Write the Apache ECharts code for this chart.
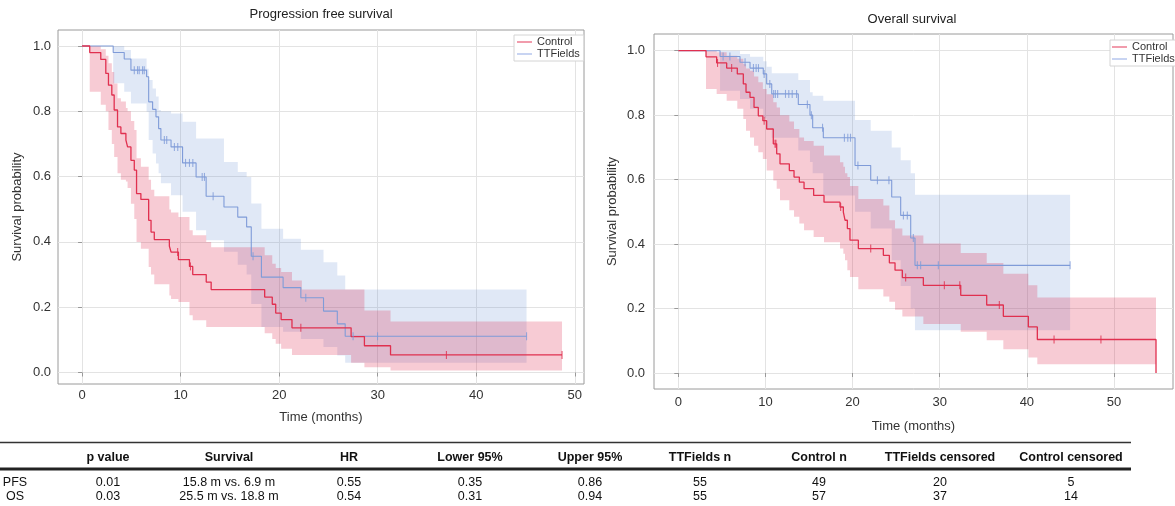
<!DOCTYPE html>
<html><head><meta charset="utf-8">
<script src="https://cdn.jsdelivr.net/npm/echarts@6/dist/echarts.min.js"></script>
<style>html,body{margin:0;padding:0;background:#fff}#c{width:1175px;height:506px}</style>
</head><body><div id="c"></div>
<script>
// ---------------- DATA ----------------
// Progression free survival - Control
const pfsCtrlTime  = [0, 0.78, 1.9, 2.41, 2.68, 3.02, 3.26, 3.6, 3.94, 4.45, 4.62, 4.96, 5.3, 5.53, 5.97, 6.76, 7.0, 7.33, 8.86, 9.03, 9.78, 10.9, 11.23, 12.6, 13.1, 18.53, 19.3, 19.65, 20.2, 21.3, 22.3, 27.3, 28.65, 31.3, 48.7];
const pfsCtrlSurv  = [1, .98, .959, .916, .88, .85, .804, .752, .732, .712, .691, .65, .62, .548, .53, .466, .43, .407, .387, .369, .346, .325, .30, .277, .254, .231, .209, .182, .162, .137, .137, .110, .082, .054, .054];
const pfsCtrlLower = [1, .86, .82, .80, .743, .70, .66, .61, .59, .585, .565, .517, .47, .40, .379, .323, .30, .27, .236, .225, .216, .175, .16, .139, .139, .12, .103, .088, .073, .054, .054, .03, .016, .006, .006];
const pfsCtrlUpper = [1, 1, .99, .97, .947, .92, .885, .84, .83, .81, .80, .77, .743, .656, .63, .59, .56, .54, .499, .49, .476, .436, .42, .40, .384, .359, .333, .32, .308, .282, .254, .254, .19, .156, .156];
const pfsCtrlCensor = [9.7, 11.0, 22.2, 36.97, 48.7];

// Progression free survival - TTFields
const pfsTtfTime  = [0, 3.16, 4.28, 4.96, 6.55, 6.76, 7.16, 7.5, 7.77, 8.0, 9.03, 10.2, 11.57, 12.59, 14.4, 15.8, 16.7, 17.17, 18.2, 20.4, 22.2, 24.5, 25.9, 26.7, 45.1];
const pfsTtfSurv  = [1, .98, .96, .926, .906, .829, .806, .783, .747, .712, .691, .642, .599, .54, .507, .476, .446, .356, .292, .26, .229, .188, .149, .111, .111];
const pfsTtfLower = [1, .886, .86, .824, .799, .712, .671, .64, .61, .58, .543, .492, .436, .405, .37, .33, .30, .21, .139, .125, .103, .078, .052, .03, .03];
const pfsTtfUpper = [1, 1, .988, .962, .93, .896, .87, .845, .804, .80, .793, .768, .717, .717, .645, .614, .599, .518, .44, .41, .376, .338, .297, .254, .254];
const pfsTtfCensor = [5.3, 5.63, 5.8, 6.14, 6.31, 8.35, 8.59, 9.37, 9.71, 10.5, 10.9, 11.24, 12.19, 12.42, 13.3, 17.35, 22.7, 27.5, 29.98, 45.1];

// Overall survival - Control
const osCtrlTime  = [0, 3.18, 4.4, 5.55, 6.77, 7.46, 7.77, 8.23, 8.69, 9.18, 9.7, 10.14, 10.9, 11.29, 11.67, 12.74, 13.28, 13.89, 14.43, 15.53, 16.72, 18.56, 18.94, 19.13, 19.4, 19.7, 20.66, 23.53, 24.22, 24.87, 25.71, 28.12, 32.41, 35.39, 37.3, 40.17, 41.2, 54.82];
const osCtrlSurv  = [1, .981, .962, .946, .928, .897, .871, .855, .824, .798, .783, .757, .711, .680, .649, .628, .608, .592, .572, .551, .530, .515, .499, .474, .448, .412, .386, .365, .342, .319, .296, .272, .241, .211, .176, .143, .104, 0];
const osCtrlLower = [1, .881, .866, .845, .82, .788, .752, .731, .705, .685, .664, .628, .597, .572, .536, .505, .485, .464, .443, .422, .406, .386, .37, .35, .319, .298, .26, .237, .221, .196, .175, .152, .128, .102, .074, .048, .027, .027];
const osCtrlUpper = [1, 1, .995, .984, .975, .959, .945, .938, .92, .902, .881, .865, .84, .824, .80, .78, .757, .731, .72, .705, .675, .654, .64, .62, .608, .58, .54, .52, .474, .448, .427, .402, .372, .341, .308, .272, .234, .234];
const osCtrlCensor = [4.5, 6.12, 9.85, 11.1, 11.2, 18.63, 22.08, 26.09, 30.53, 32.3, 36.84, 43.12, 48.5];

// Overall survival - TTFields
const osTtfTime  = [0, 4.79, 7.08, 8.23, 9.75, 10.14, 10.72, 13.77, 15.11, 15.42, 16.64, 20.28, 22.08, 24.49, 25.52, 26.67, 27.16, 44.96];
const osTtfSurv  = [1, .982, .964, .946, .928, .897, .866, .833, .80, .761, .73, .644, .598, .546, .489, .419, .334, .334];
const osTtfLower = [1, .876, .85, .82, .79, .76, .73, .69, .655, .62, .551, .50, .448, .35, .27, .20, .133, .133];
const osTtfUpper = [1, 1, .99, .981, .967, .95, .93, .909, .871, .86, .845, .785, .752, .70, .66, .62, .553, .553];
const osTtfCensor = [5.14, 5.92, 7.66, 8.62, 8.93, 9.2, 9.85, 10.5, 10.94, 11.14, 11.4, 12.3, 12.68, 13.07, 13.57, 14.81, 15.27, 16.55, 19.06, 19.45, 19.76, 20.61, 22.85, 24.17, 25.83, 26.28, 26.97, 27.43, 27.81, 29.84, 44.96];

// Axis ticks
const xTicks = [0, 10, 20, 30, 40, 50];
const yTicks = [0, 0.2, 0.4, 0.6, 0.8, 1.0];

// Table
const tableHeader = ['', 'p value', 'Survival', 'HR', 'Lower 95%', 'Upper 95%', 'TTFields n', 'Control n', 'TTFields censored', 'Control censored'];
const tableRowPFS = ['PFS', '0.01', '15.8 m vs. 6.9 m', '0.55', '0.35', '0.86', '55', '49', '20', '5'];
const tableRowOS  = ['OS', '0.03', '25.5 m vs. 18.8 m', '0.54', '0.31', '0.94', '55', '57', '37', '14'];

// ---------------- STYLE ----------------
const FONT = '"Liberation Sans", Arial, Helvetica, sans-serif';
const RED = '#e0304f';
const BLUE = '#7f9bd8';
const RED_BAND = 'rgba(220,20,60,0.22)';
const BLUE_BAND = 'rgba(100,140,210,0.2)';
const tableCols = [15, 108, 229, 349, 470, 590, 700, 819, 940, 1071];

function survAt(times, surv, c) {
  let s = surv[0];
  for (let i = 0; i < times.length; i++) if (times[i] <= c + 1e-9) s = surv[i];
  return s;
}

function bandSeries(xi, times, lo, hi, color) {
  return {
    type: 'custom', xAxisIndex: xi, yAxisIndex: xi, silent: true, clip: true, z: 1,
    data: times.map((t, i) => [t, lo[i], hi[i]]),
    encode: { x: 0, y: [1, 2] },
    renderItem: function (params, api) {
      if (params.dataIndexInside !== 0) return null;
      const n = params.dataInsideLength;
      const T = [], L = [], H = [];
      for (let i = 0; i < n; i++) { T.push(api.value(0, i)); L.push(api.value(1, i)); H.push(api.value(2, i)); }
      const pts = [];
      for (let i = 0; i < n; i++) {
        pts.push(api.coord([T[i], H[i]]));
        if (i < n - 1) pts.push(api.coord([T[i + 1], H[i]]));
      }
      for (let i = n - 1; i >= 0; i--) {
        if (i < n - 1) pts.push(api.coord([T[i + 1], L[i]]));
        pts.push(api.coord([T[i], L[i]]));
      }
      return { type: 'polygon', shape: { points: pts }, style: { fill: color, stroke: null } };
    }
  };
}

function lineSeries(name, xi, times, surv, color, w) {
  return {
    name: name, type: 'line', xAxisIndex: xi, yAxisIndex: xi, step: 'end', symbol: 'none', z: 3,
    data: times.map((t, i) => [t, surv[i]]),
    lineStyle: { color: color, width: w }, itemStyle: { color: color }, silent: true
  };
}

function censorSeries(name, xi, times, surv, cens, color) {
  return {
    name: name, type: 'scatter', xAxisIndex: xi, yAxisIndex: xi, symbol: 'rect', symbolSize: [1.1, 8], z: 4,
    data: cens.map(c => [c, survAt(times, surv, c)]),
    itemStyle: { color: color }, silent: true
  };
}

function xAx(gi, min, max, nameGap, margin) {
  return {
    type: 'value', gridIndex: gi, min: min, max: max,
    name: 'Time (months)', nameLocation: 'middle', nameGap: nameGap,
    nameTextStyle: { fontSize: 13, color: '#333', fontFamily: FONT },
    axisLine: { show: false },
    axisTick: { show: true, length: 4, inside: false, lineStyle: { color: '#999' }, customValues: xTicks },
    axisLabel: { customValues: xTicks, margin: margin, fontSize: 13, color: '#333', fontFamily: FONT,
      formatter: v => String(v) },
    splitLine: { show: true, lineStyle: { color: '#e3e3e3', width: 1 } }
  };
}
function yAx(gi, min, max, nameGap, margin) {
  return {
    type: 'value', gridIndex: gi, min: min, max: max,
    name: 'Survival probability', nameLocation: 'middle', nameGap: nameGap,
    nameTextStyle: { fontSize: 13, color: '#333', fontFamily: FONT },
    axisLine: { show: false },
    axisTick: { show: true, length: 4, inside: false, lineStyle: { color: '#999' }, customValues: yTicks },
    axisLabel: { customValues: yTicks, margin: margin, fontSize: 13, color: '#333', fontFamily: FONT,
      formatter: v => Number(v).toFixed(1) },
    splitLine: { show: true, lineStyle: { color: '#e3e3e3', width: 1 } }
  };
}

function legendAt(left, top, padL) {
  return {
    left: left, top: top, orient: 'vertical', backgroundColor: '#fff',
    borderColor: '#d4d4d4', borderWidth: 1, borderRadius: 0, padding: [1, 4, 1, padL],
    itemGap: 0, itemWidth: 15, itemHeight: 1.5, icon: 'rect',
    textStyle: { fontSize: 11, lineHeight: 12, color: '#333', fontFamily: FONT },
    selectedMode: false,
    data: [
      { name: 'Control', itemStyle: { color: '#ec7b90' } },
      { name: 'TTFields', itemStyle: { color: '#b6c6ee' } }
    ]
  };
}

// ---------------- TABLE GRAPHICS ----------------
function txt(x, y, s, bold) {
  return { type: 'text', x: x, y: y, silent: true,
    style: { text: s, fill: '#111', fontSize: 12.5, fontWeight: bold ? 'bold' : 'normal', fontFamily: FONT,
      textAlign: 'center', textVerticalAlign: 'middle', align: 'center', verticalAlign: 'middle' } };
}
const graphics = [];
graphics.push({ type: 'line', silent: true, shape: { x1: 0, y1: 442.5, x2: 1131, y2: 442.5 }, style: { stroke: '#333', lineWidth: 1.5 } });
graphics.push({ type: 'line', silent: true, shape: { x1: 0, y1: 469, x2: 1131, y2: 469 }, style: { stroke: '#222', lineWidth: 3 } });
tableHeader.forEach((h, i) => { if (h) graphics.push(txt(tableCols[i], 457.5, h, true)); });
tableRowPFS.forEach((h, i) => graphics.push(txt(tableCols[i], 482.5, h, false)));
tableRowOS.forEach((h, i) => graphics.push(txt(tableCols[i], 496.5, h, false)));
// titles
graphics.push({ type: 'text', x: 321, y: 14, silent: true, style: { text: 'Progression free survival', fill: '#222', fontSize: 13, fontFamily: FONT, textAlign: 'center', textVerticalAlign: 'middle', align: 'center', verticalAlign: 'middle' } });
graphics.push({ type: 'text', x: 912, y: 19, silent: true, style: { text: 'Overall survival', fill: '#222', fontSize: 13, fontFamily: FONT, textAlign: 'center', textVerticalAlign: 'middle', align: 'center', verticalAlign: 'middle' } });

// ---------------- CHART ----------------
const chart = echarts.init(document.getElementById('c'), null, { renderer: 'canvas' });
chart.setOption({
  animation: false,
  backgroundColor: '#fff',
  textStyle: { fontFamily: FONT },
  grid: [
    { left: 58, top: 30, width: 526, height: 354, show: true, borderColor: '#9a9a9a', borderWidth: 1, backgroundColor: '#fff' },
    { left: 654, top: 34, width: 519, height: 355, show: true, borderColor: '#9a9a9a', borderWidth: 1, backgroundColor: '#fff' }
  ],
  xAxis: [ xAx(0, -2.44, 50.93, 27, 5), xAx(1, -2.79, 56.77, 31, 6.5) ],
  yAxis: [ yAx(0, -0.0352, 1.049, 34, 7), yAx(1, -0.0496, 1.0518, 35, 9) ],
  legend: [ legendAt(514, 35, 3), legendAt(1110, 40, 2) ],
  graphic: graphics,
  series: [
    bandSeries(0, pfsTtfTime, pfsTtfLower, pfsTtfUpper, BLUE_BAND),
    bandSeries(0, pfsCtrlTime, pfsCtrlLower, pfsCtrlUpper, RED_BAND),
    lineSeries('TTFields', 0, pfsTtfTime, pfsTtfSurv, BLUE, 1.1),
    lineSeries('Control', 0, pfsCtrlTime, pfsCtrlSurv, RED, 1.3),
    censorSeries('TTFields', 0, pfsTtfTime, pfsTtfSurv, pfsTtfCensor, BLUE),
    censorSeries('Control', 0, pfsCtrlTime, pfsCtrlSurv, pfsCtrlCensor, RED),
    bandSeries(1, osTtfTime, osTtfLower, osTtfUpper, BLUE_BAND),
    bandSeries(1, osCtrlTime, osCtrlLower, osCtrlUpper, RED_BAND),
    lineSeries('TTFields', 1, osTtfTime, osTtfSurv, BLUE, 1.1),
    lineSeries('Control', 1, osCtrlTime, osCtrlSurv, RED, 1.3),
    censorSeries('TTFields', 1, osTtfTime, osTtfSurv, osTtfCensor, BLUE),
    censorSeries('Control', 1, osCtrlTime, osCtrlSurv, osCtrlCensor, RED)
  ]
});
</script></body></html>
